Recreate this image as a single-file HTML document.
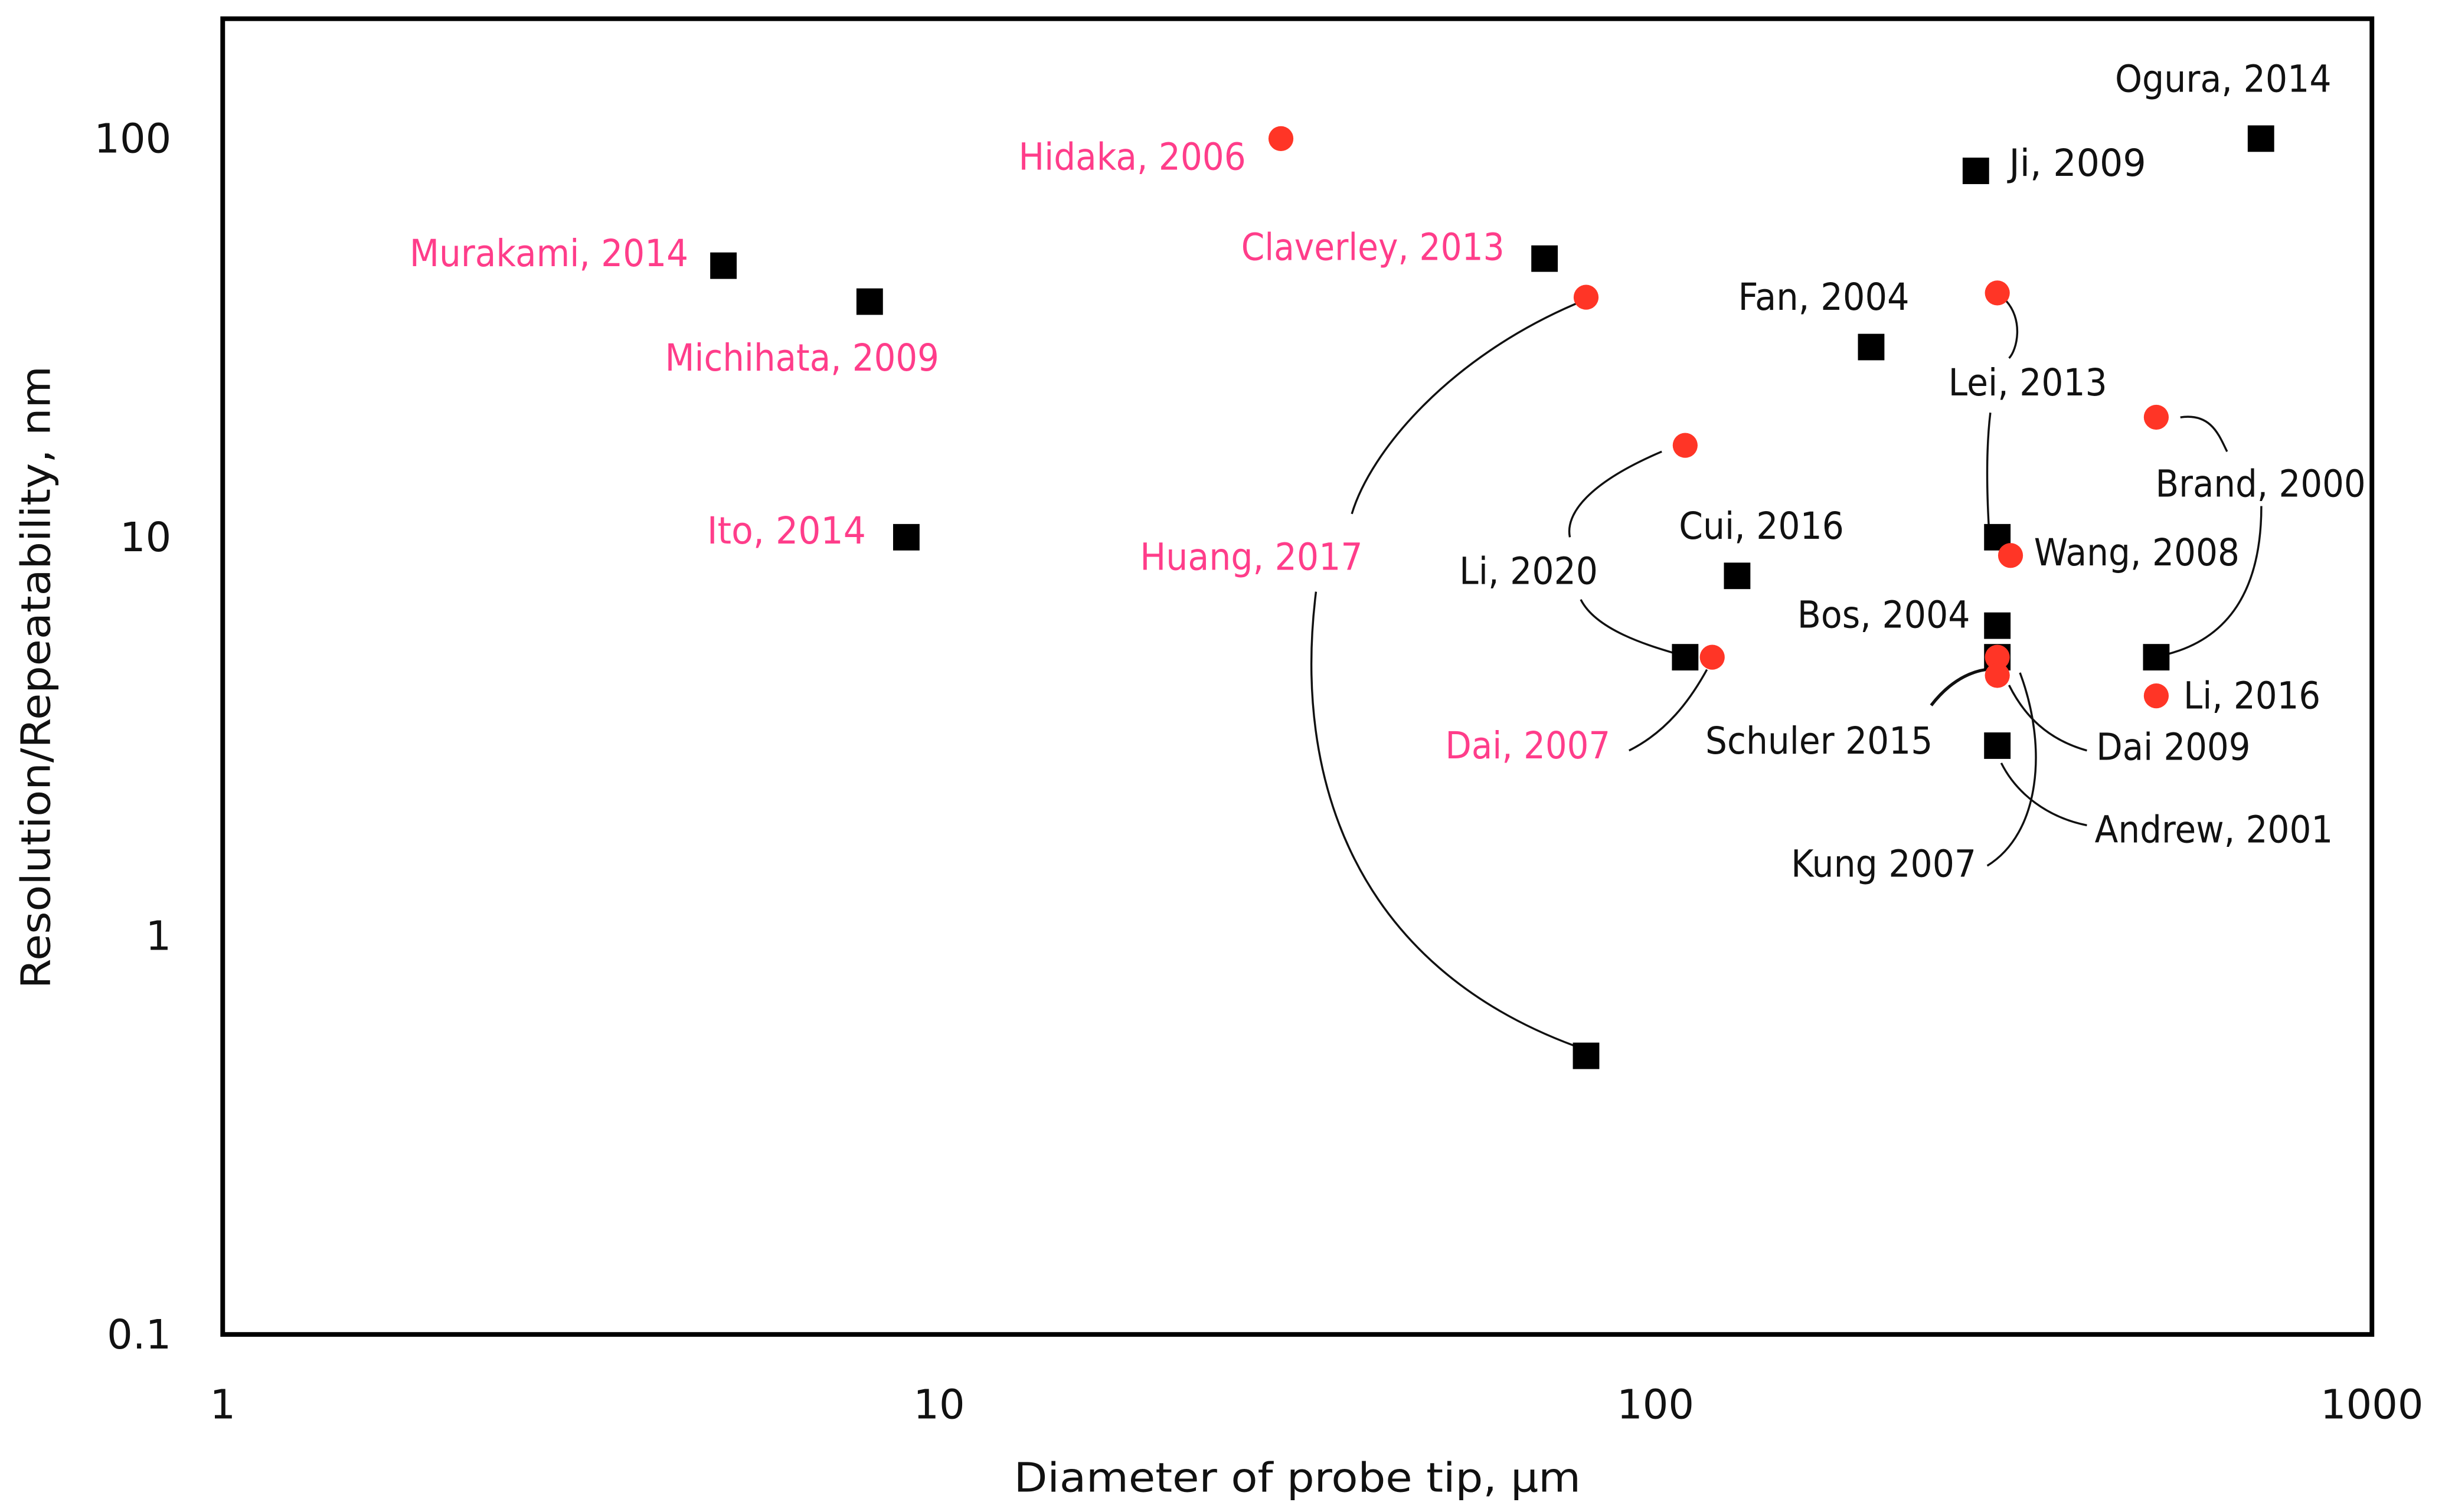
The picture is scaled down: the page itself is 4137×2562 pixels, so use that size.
<!DOCTYPE html>
<html><head><meta charset="utf-8"><style>
html,body{margin:0;padding:0;background:#fff;}
svg{display:block;}
text{font-family:"DejaVu Sans","Liberation Sans",sans-serif;}
</style></head><body>
<svg id="chart" width="4137" height="2562" viewBox="0 0 1568 971" xmlns="http://www.w3.org/2000/svg">
<rect x="0" y="0" width="1568" height="971" fill="#fff"/>
<g id="connectors" fill="none" stroke="#111" stroke-width="1.3">
<path d="M1012,195 C930,230 880,290 868,330"/>
<path d="M845,380 C830,500 870,620 1012,672"/>
<path d="M1067,290 C1020,310 1005,330 1008,345"/>
<path d="M1015,385 C1025,405 1060,415 1077,420"/>
<path d="M1046,482 C1070,470 1085,450 1096,430"/>
<path d="M1287,192 C1300,205 1295,225 1290,230"/>
<path d="M1278,265 C1275,290 1276,320 1277,338"/>
<path d="M1400,268 C1420,265 1425,280 1430,290"/>
<path d="M1452,325 C1452,380 1430,410 1392,420"/>
<path d="M1240,453 C1250,440 1262,432 1275,430" stroke-width="2"/>
<path d="M1290,440 C1300,460 1315,475 1340,482"/>
<path d="M1285,490 C1295,510 1315,525 1340,530"/>
<path d="M1276,556 C1310,535 1315,480 1297,432"/>
</g>
<g id="marks"></g>
<g id="labels" font-size="24"></g>
<rect x="143" y="12" width="1380" height="845" fill="none" stroke="#000" stroke-width="3"/>
<g id="axes" font-size="26" fill="#111"></g>
<text x="651" y="958" textLength="364" lengthAdjust="spacingAndGlyphs" font-size="26" fill="#111">Diameter of probe tip, µm</text>
<text x="0" y="0" text-anchor="middle" textLength="400" lengthAdjust="spacingAndGlyphs" font-size="26" fill="#111" transform="translate(32,435) rotate(-90)">Resolution/Repeatability, nm</text>
</svg>
<script>
const squareX = [5, 8, 9, 70, 80, 200, 280, 700, 110, 130, 300, 300, 300, 300, 500];
const squareY = [48, 39, 10, 50, 0.5, 30, 83, 100, 5, 8, 10, 6, 5, 3, 5];
const circleX = [30, 80, 110, 120, 300, 500, 313, 300, 300, 500];
const circleY = [100, 40, 17, 5, 41, 20, 9, 5, 4.5, 4];
const xTicks = [1, 10, 100, 1000];
const yTicks = [0.1, 1, 10, 100];
const yTickLabels = ["0.1", "1", "10", "100"];
const labelTexts = ["Hidaka, 2006","Murakami, 2014","Michihata, 2009","Ito, 2014","Claverley, 2013","Huang, 2017","Dai, 2007","Ogura, 2014","Ji, 2009","Fan, 2004","Lei, 2013","Brand, 2000","Cui, 2016","Li, 2020","Wang, 2008","Bos, 2004","Li, 2016","Schuler 2015","Dai 2009","Andrew, 2001","Kung 2007"];
const labelPink = [1,1,1,1,1,1,1,0,0,0,0,0,0,0,0,0,0,0,0,0,0];

const labelPos = [[654,800,109],[263,442,171],[427,603,238],[454,556,349],[797,966,167],[732,875,366],[928,1034,487],[1358,1497,59],[1290,1378,113],[1116,1226,199],[1251,1353,254],[1384,1519,319],[1078,1184,346],[937,1026,375],[1306,1438,363],[1154,1265,403],[1402,1490,455],[1095,1241,484],[1346,1445,488],[1345,1498,541],[1150,1269,563]];

const NS = "http://www.w3.org/2000/svg";
function sx(v){ return 143 + 460 * Math.log10(v); }
function sy(v){ return 857 - 256 * (Math.log10(v) + 1); }

const marks = document.getElementById('marks');
for (let i = 0; i < squareX.length; i++) {
  const r = document.createElementNS(NS, 'rect');
  r.setAttribute('x', sx(squareX[i]) - 8.5);
  r.setAttribute('y', sy(squareY[i]) - 8.5);
  r.setAttribute('width', 17);
  r.setAttribute('height', 17);
  r.setAttribute('fill', '#000');
  
  
  marks.appendChild(r);
}
for (let i = 0; i < circleX.length; i++) {
  const c = document.createElementNS(NS, 'circle');
  c.setAttribute('cx', sx(circleX[i]));
  c.setAttribute('cy', sy(circleY[i]));
  c.setAttribute('r', 8);
  c.setAttribute('fill', '#ff3526');
  
  
  marks.appendChild(c);
}
const labels = document.getElementById('labels');
for (let i = 0; i < labelTexts.length; i++) {
  const t = document.createElementNS(NS, 'text');
  const p = labelPos[i];
  t.setAttribute('x', p[0]);
  t.setAttribute('y', p[2]);
  t.setAttribute('textLength', p[1] - p[0]);
  t.setAttribute('lengthAdjust', 'spacingAndGlyphs');
  t.setAttribute('fill', labelPink[i] ? '#ff3d8a' : '#111');
  t.textContent = labelTexts[i];
  
  
  labels.appendChild(t);
}
const axes = document.getElementById('axes');
for (let i = 0; i < xTicks.length; i++) {
  const t = document.createElementNS(NS, 'text');
  t.setAttribute('x', sx(xTicks[i]));
  t.setAttribute('y', 911);
  t.setAttribute('text-anchor', 'middle');
  t.textContent = String(xTicks[i]);
  
  
  axes.appendChild(t);
}
for (let i = 0; i < yTicks.length; i++) {
  const t = document.createElementNS(NS, 'text');
  t.setAttribute('x', 110);
  t.setAttribute('y', sy(yTicks[i]) + 9);
  t.setAttribute('text-anchor', 'end');
  t.textContent = yTickLabels[i];
  
  
  axes.appendChild(t);
}
</script>
</body></html>
